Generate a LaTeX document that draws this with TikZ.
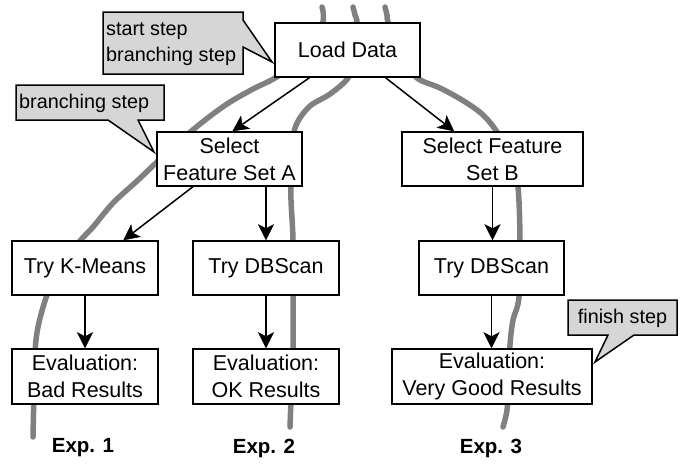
\documentclass[tikz,border=0pt]{standalone}
\usepackage{fontspec}
\setmainfont{Liberation Sans}
\usetikzlibrary{arrows.meta,calc}
\definecolor{trackgray}{RGB}{128,128,128}
\definecolor{callfill}{RGB}{214,214,214}
\tikzset{
  box/.style={draw=black, line width=1.5pt, fill=white, inner sep=0pt, align=center,
    minimum height=54pt, font=\fontsize{21.5}{27}\selectfont},
  track/.style={draw=trackgray, line width=5.5pt, line cap=round, line join=round},
  arr/.style={draw=black, line width=1.5pt, -{Stealth[length=16pt,width=16pt,inset=4pt,line width=0.5pt]}},
  callshape/.style={draw=black, line width=1.5pt, fill=callfill, line join=miter},
  calltext/.style={inner sep=0pt, align=left, font=\fontsize{19.8}{26}\selectfont},
  explabel/.style={inner sep=0pt, font=\bfseries\fontsize{20.5}{24}\selectfont}
}
\begin{document}
\begin{tikzpicture}[x=1pt,y=-1pt]
\useasboundingbox (0,0) rectangle (683,464);

% experiment tracks (behind boxes)
\draw[track] plot[smooth, tension=0.55] coordinates {(322,7) (322,25) (300,60) (275,78) (253,89) (227,104) (200,124) (173,147) (157,162) (137,181) (113,203) (93,227) (80,241) (60,268) (47,295) (38,327) (35,353) (34,390) (33,437)};
\draw[track] plot[smooth, tension=0.55] coordinates {(353,7) (355,15) (357,25) (352,60) (348,78) (330,94) (310,106) (297,123) (292,143) (291,170) (291,200) (293,240) (293,300) (293,353) (291,400) (290,427)};
\draw[track] plot[smooth, tension=0.55] coordinates {(385,7) (387,15) (389,25) (405,60) (417,78) (440,88) (462,100) (482,114) (497,132) (512,160) (518,187) (520,240) (519,297) (513,320) (510,345) (509,380) (507,410) (503,427)};

% boxes
\node[box, minimum width=145pt] (load) at (347.5,50) {Load Data};
\node[box, minimum width=145pt] (selA) at (229.5,159) {Select\\Feature Set A};
\node[box, minimum width=181pt] (selB) at (492.5,159) {Select Feature\\Set B};
\node[box, minimum width=146pt] (km) at (85,268) {Try K-Means};
\node[box, minimum width=146pt] (dbA) at (266,268) {Try DBScan};
\node[box, minimum width=145pt] (dbB) at (491.5,268) {Try DBScan};
\node[box, minimum width=146pt, minimum height=55pt] (evA) at (85,376.5) {Evaluation:\\Bad Results};
\node[box, minimum width=146pt, minimum height=55pt] (evB) at (266,376.5) {Evaluation:\\OK Results};
\node[box, minimum width=200pt, minimum height=55pt] (evC) at (492,376.5) {Evaluation:\\Very Good Results};

% connectors
\draw[arr] ($(load.south west)!0.24!(load.south east)$) -- ($(selA.north west)!0.52!(selA.north east)$);
\draw[arr] ($(load.south west)!0.76!(load.south east)$) -- ($(selB.north west)!0.29!(selB.north east)$);
\draw[arr] ($(selA.south west)!0.25!(selA.south east)$) -- ($(km.north west)!0.76!(km.north east)$);
\draw[arr] (dbA.north |- selA.south) -- (dbA.north);
\draw[arr] (selB.south) -- (selB.south |- dbB.north);
\draw[arr] (km.south) -- (evA.north);
\draw[arr] (dbA.south) -- (evB.north);
\draw[arr] (dbB.south) -- (dbB.south |- evC.north);

% callouts
\draw[callshape] (103,12) -- (243,12) -- (243,20) -- (272,62) -- (243,47) -- (243,74) -- (103,74) -- cycle;
\node[calltext, anchor=west] (c1) at (106,44) {start step\\branching step};
\draw[callshape] (16,85) -- (164,85) -- (164,120) -- (138,120) -- (154,152) -- (108,120) -- (16,120) -- cycle;
\node[calltext, anchor=west] (c2) at (19,103) {branching step};
\draw[callshape] (568,300) -- (677,300) -- (677,335) -- (634,335) -- (595,362) -- (608,335) -- (568,335) -- cycle;
\node[calltext] (c3) at (622.5,318) {finish step};

% experiment labels
\node[explabel] (e1) at (83,448) {Exp. 1};
\node[explabel] (e2) at (264,448) {Exp. 2};
\node[explabel] (e3) at (491,448) {Exp. 3};
\end{tikzpicture}
\end{document}
